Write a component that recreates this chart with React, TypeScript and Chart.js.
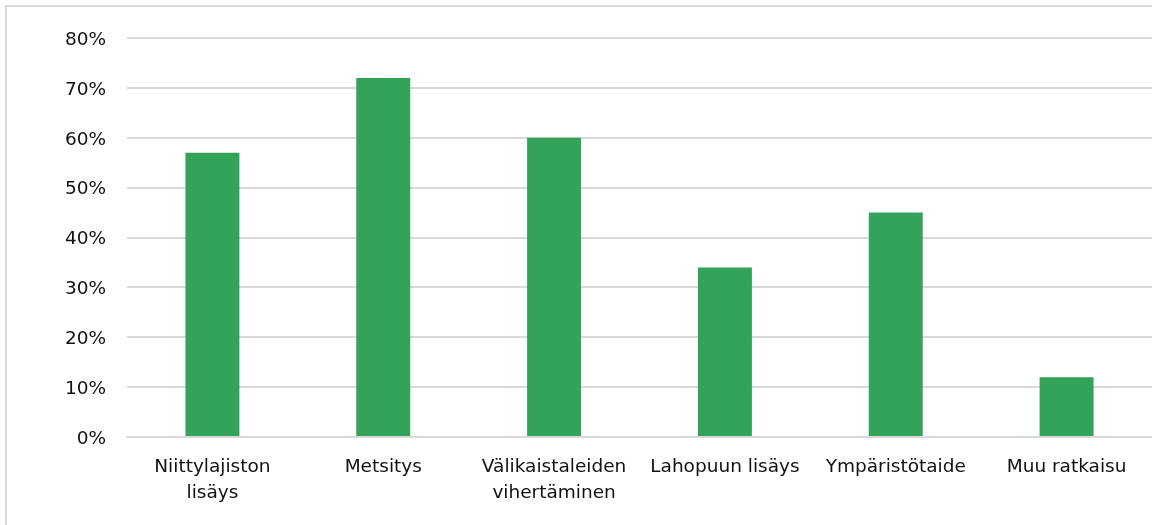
import React, { useEffect, useRef } from "react";
import { Chart, registerables } from "chart.js";

Chart.register(...registerables);

const categories: (string | string[])[] = [
  ["Niittylajiston", "lisäys"],
  "Metsitys",
  ["Välikaistaleiden", "vihertäminen"],
  "Lahopuun lisäys",
  "Ympäristötaide",
  "Muu ratkaisu",
];
const values = [57, 72, 60, 34, 45, 12];
const yTicks = [0, 10, 20, 30, 40, 50, 60, 70, 80];

export default function App() {
  const ref = useRef<HTMLCanvasElement | null>(null);
  useEffect(() => {
    document.body.style.margin = "0";
    document.body.style.overflow = "hidden";
    const yFont = { family: "DejaVu Sans", size: 18.5, lineHeight: 1.2 };
    const xFont = { family: "DejaVu Sans", size: 18.5, lineHeight: 1.42 };
    const chart = new Chart(ref.current!, {
      type: "bar",
      data: {
        labels: categories,
        datasets: [
          {
            data: values,
            backgroundColor: "#33a35a",
            categoryPercentage: 1,
            barPercentage: 0.316,
          },
        ],
      },
      options: {
        animation: false,
        responsive: false,
        maintainAspectRatio: false,
        layout: { padding: { top: 38, right: 0, left: 0, bottom: 0 } },
        plugins: { legend: { display: false }, tooltip: { enabled: false } },
        scales: {
          x: {
            grid: { display: false },
            border: { display: true, color: "#d9d9d9", width: 2 },
            ticks: { color: "#111", font: xFont, padding: 9, maxRotation: 0, autoSkip: false },
            afterFit: (s: any) => { s.height = 88; },
          },
          y: {
            min: 0,
            max: 80,
            afterBuildTicks: (s: any) => { s.ticks = yTicks.map((v) => ({ value: v })); },
            grid: { color: "#d9d9d9", lineWidth: 2, drawTicks: false },
            border: { display: false },
            ticks: {
              color: "#111",
              font: yFont,
              padding: 21,
              labelOffset: 2,
              callback: (v: any) => v + "%",
            },
            afterFit: (s: any) => { s.width = 127; },
          },
        },
      },
    });
    return () => chart.destroy();
  }, []);
  return (
    <div style={{ position: "fixed", left: 0, top: 0, width: 1152, height: 525, background: "#fff" }}>
      <div
        style={{
          position: "absolute",
          left: 5,
          top: 5,
          width: 1200,
          height: 600,
          borderLeft: "2px solid #d9d9d9",
          borderTop: "2px solid #d9d9d9",
        }}
      />
      <canvas ref={ref} width={1152} height={525} style={{ position: "absolute", left: 0, top: 0 }} />
    </div>
  );
}
